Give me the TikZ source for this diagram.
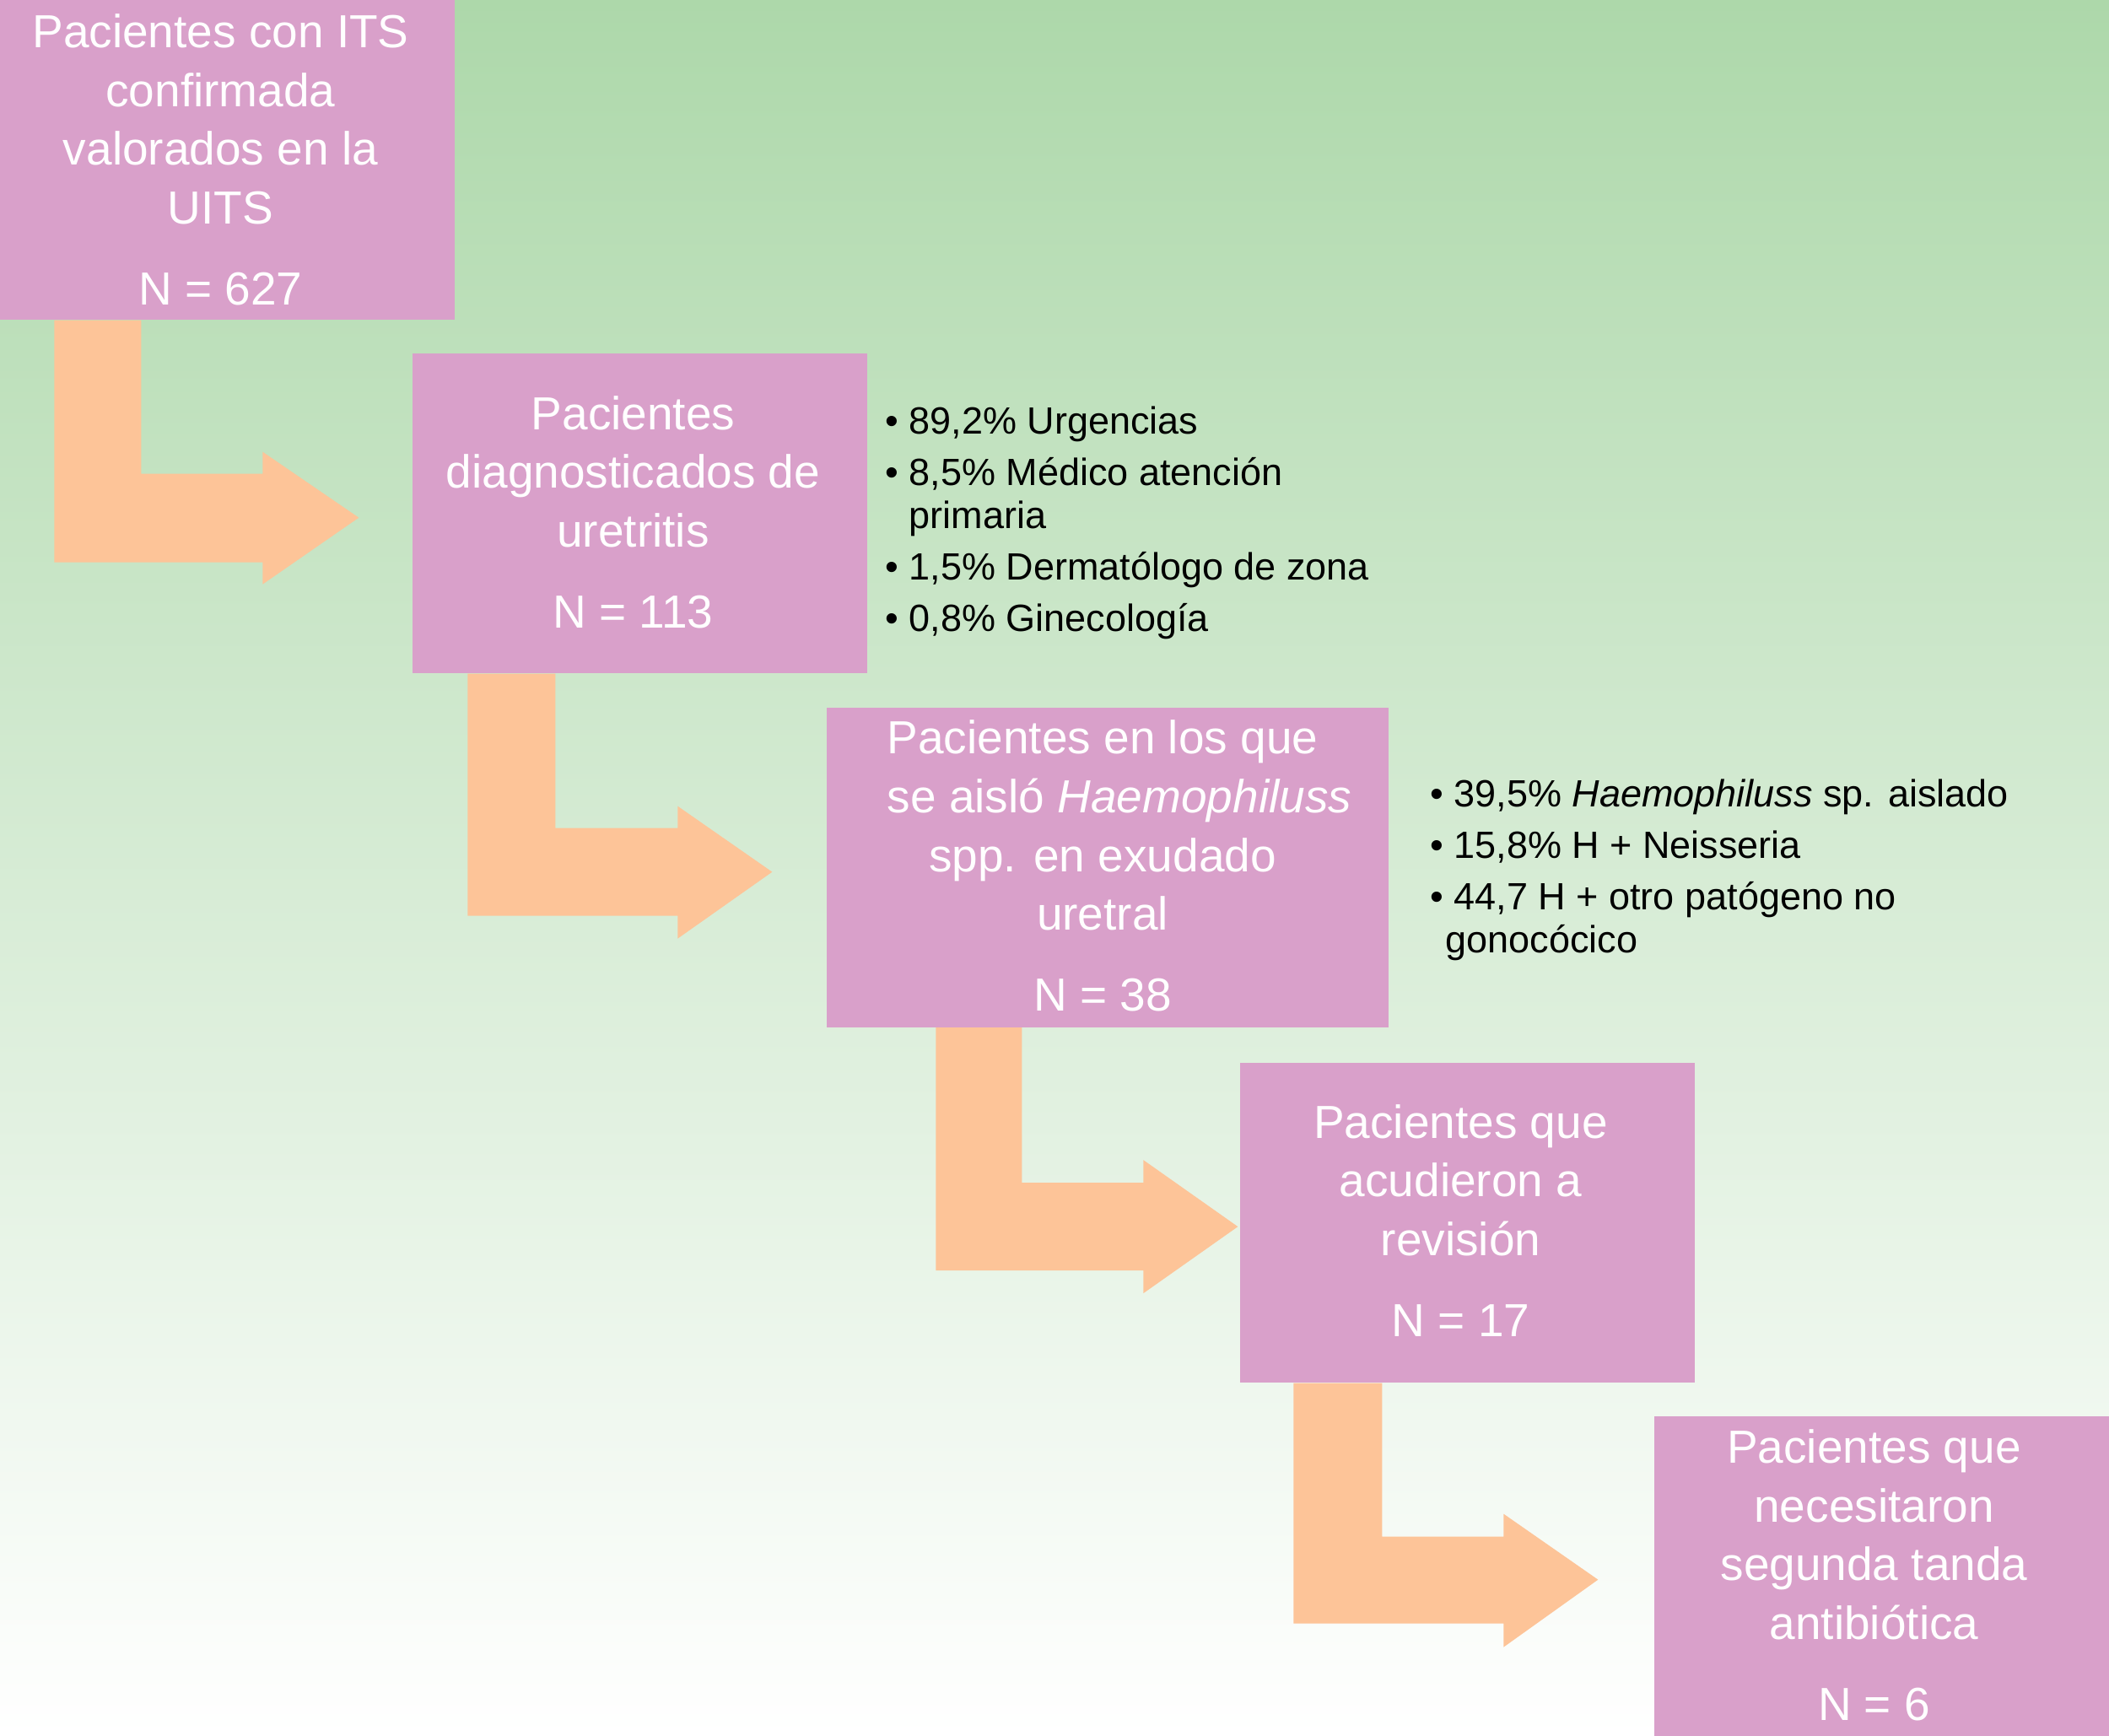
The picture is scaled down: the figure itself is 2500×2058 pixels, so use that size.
\documentclass[tikz,border=0pt]{standalone}
\usepackage{fontspec}
\setmainfont{Liberation Sans}
\usetikzlibrary{calc}
\definecolor{bgtop}{HTML}{ADD8AA}
\definecolor{boxc}{HTML}{D9A0CA}
\definecolor{arrowc}{HTML}{FDC498}
\tikzset{
  box/.style={fill=boxc, draw=none, inner sep=0pt, minimum height=113.7pt},
  boxtext/.style={text=white, align=center, inner sep=0pt, anchor=base,
    font=\fontsize{16.5pt}{20.9pt}\selectfont},
  listtext/.style={text=black, align=left, inner sep=0pt, anchor=base west,
    font=\fontsize{13.5pt}{15.3pt}\selectfont},
  flow/.style={fill=arrowc, draw=none}
}
\begin{document}
\begin{tikzpicture}[x=0.3pt,y=-0.3pt]
\useasboundingbox (0,0) rectangle (2500,2058);
\shade[top color=bgtop, bottom color=white] (0,0) rectangle (2500,2058);

% boxes
\node[box, minimum width=161.7pt] (b1) at (269.5,189.5) {};
\node[box, minimum width=161.7pt] (b2) at (758.5,608.5) {};
\node[box, minimum width=199.8pt] (b3) at (1313,1028) {};
\node[box, minimum width=161.7pt] (b4) at (1739.5,1449.5) {};
\node[box, minimum width=161.7pt] (b5) at (2230.5,1868.5) {};

% block arrows
\fill[flow] (b1.south west) ++(65,0) -- ++(0,287) -- ++(247,0) -- ++(0,26)
  -- ++(114,-79) -- ++(-114,-78) -- ++(0,26) -- ++(-144,0) -- ++(0,-182) -- cycle;
\fill[flow] (b2.south west) ++(66,0) -- ++(0,287) -- ++(249,0) -- ++(0,27)
  -- ++(112,-79) -- ++(-112,-78) -- ++(0,26) -- ++(-145,0) -- ++(0,-183) -- cycle;
\fill[flow] (b3.south west) ++(130,0) -- ++(0,288) -- ++(246,0) -- ++(0,27)
  -- ++(112,-79) -- ++(-112,-79) -- ++(0,27) -- ++(-144,0) -- ++(0,-184) -- cycle;
\fill[flow] (b4.south west) ++(64,0) -- ++(0,285) -- ++(249,0) -- ++(0,28)
  -- ++(112,-80) -- ++(-112,-78) -- ++(0,27) -- ++(-144,0) -- ++(0,-182) -- cycle;

% box texts (anchored at the baseline of the last line)
\node[boxtext] (t1) at ($(b1.north)+(-8,362)$)
  {Pacientes con ITS\\confirmada\\valorados en la\\UITS\\[7.9pt]N = 627};
\node[boxtext] (t2) at ($(b2.north)+(-8,326)$)
  {Pacientes\\diagnosticados de\\uretritis\\[7.9pt]N = 113};
\node[boxtext] (t3) at ($(b3.north)+(-6,361)$)
  {Pacientes en los que\\\hspace*{12pt}se aisló {\itshape Haemophiluss}\\spp. en exudado\\uretral\\[7.9pt]N = 38};
\node[boxtext] (t4) at ($(b4.north)+(-8,325)$)
  {Pacientes que\\acudieron a\\revisión\\[7.9pt]N = 17};
\node[boxtext] (t5) at ($(b5.north)+(-9,361)$)
  {Pacientes que\\necesitaron\\segunda tanda\\antibiótica\\[7.9pt]N = 6};

% side lists
\node[listtext] (l1) at ($(b2.north east)+(20,330)$)
  {• 89,2\% Urgencias\\[3pt]• 8,5\% Médico atención\\\phantom{•\ }primaria\\[3pt]• 1,5\% Dermatólogo de zona\\[3pt]• 0,8\% Ginecología};
\node[listtext] (l2) at ($(b3.north east)+(48,292)$)
  {• 39,5\% {\itshape Haemophiluss} sp. aislado\\[3pt]• 15,8\% H + Neisseria\\[3pt]• 44,7 H + otro patógeno no\\\hspace*{5.5pt}gonocócico};
\end{tikzpicture}
\end{document}
